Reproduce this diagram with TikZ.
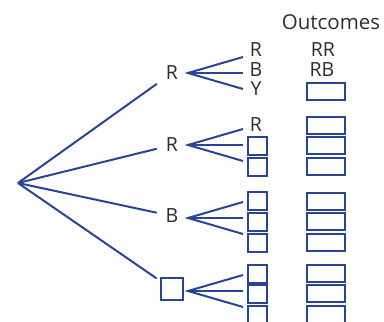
\documentclass[tikz,border=0pt]{standalone}
\usepackage{fontspec}
\setmainfont{Open Sans}
\definecolor{tb}{RGB}{40,68,150}
\definecolor{tx}{RGB}{45,45,45}
\begin{document}
\begin{tikzpicture}[x=1pt,y=-1pt,
  lbl/.style={text=tx,font=\fontsize{19.5}{19.5}\selectfont,inner sep=0pt},
  hdr/.style={text=tx,font=\fontsize{20.5}{20.5}\selectfont,inner sep=0pt},
  l1/.style={lbl,minimum width=30pt,minimum height=24pt},
  br/.style={draw=tb,line width=2pt},
  sbox/.style={draw=tb,line width=2pt,minimum width=19pt,minimum height=18pt,inner sep=0pt},
  bigbox/.style={draw=tb,line width=2pt,minimum width=22pt,minimum height=22pt,inner sep=0pt},
  obox/.style={draw=tb,line width=2pt,minimum width=38pt,minimum height=17pt,inner sep=0pt}]
\useasboundingbox (0,0) rectangle (384,322);
\clip (0,0) rectangle (384,322);
% root and first level
\coordinate (root) at (18,183);
\node[l1] (a) at (172,73) {R};
\node[l1] (b) at (172,145) {R};
\node[l1] (c) at (172,216) {B};
\node[bigbox] (d) at (172,289) {};
\draw[br] (root) -- (a);
\draw[br] (root) -- (b);
\draw[br] (root) -- (c);
\draw[br,shorten >=4pt] (root) -- (d);
% fans
\foreach \g/\y in {a/73,b/145,c/218,d/291}{
  \coordinate (\g o) at (188,\y);
  \coordinate (\g 1) at (243,\y-16);
  \coordinate (\g 2) at (243,\y);
  \coordinate (\g 3) at (243,\y+16);
  \draw[br] (\g 1) -- (\g o) -- (\g 3);
  \draw[br] (\g o) -- (\g 2);
}
% second level
\node[lbl] (a1) at (256,50) {R};
\node[lbl] (a2) at (256,70) {B};
\node[lbl] (a3) at (256,89) {Y};
\node[lbl] (b1) at (256,125) {R};
\node[sbox] (b2) at (257.5,146) {};
\node[sbox] (b3) at (257.5,167) {};
\node[sbox] (c1) at (257.5,201) {};
\node[sbox] (c2) at (257.5,221.5) {};
\node[sbox] (c3) at (257.5,242.5) {};
\node[sbox] (d1) at (257.5,273.5) {};
\node[sbox] (d2) at (257.5,293.5) {};
\node[sbox] (d3) at (257.5,314.5) {};
% outcomes
\node[hdr] (hd) at (331,22) {Outcomes};
\node[lbl] (oa1) at (323,50) {RR};
\node[lbl] (oa2) at (322,70) {RB};
\node[obox] (oa3) at (326,91.5) {};
\node[obox] (ob1) at (326,125) {};
\node[obox] (ob2) at (326,145.5) {};
\node[obox] (ob3) at (326,166.5) {};
\node[obox] (oc1) at (326,201) {};
\node[obox] (oc2) at (326,221.5) {};
\node[obox] (oc3) at (326,242.5) {};
\node[obox] (od1) at (326,273.5) {};
\node[obox] (od2) at (326,293.5) {};
\node[obox] (od3) at (326,314.5) {};
\end{tikzpicture}
\end{document}
